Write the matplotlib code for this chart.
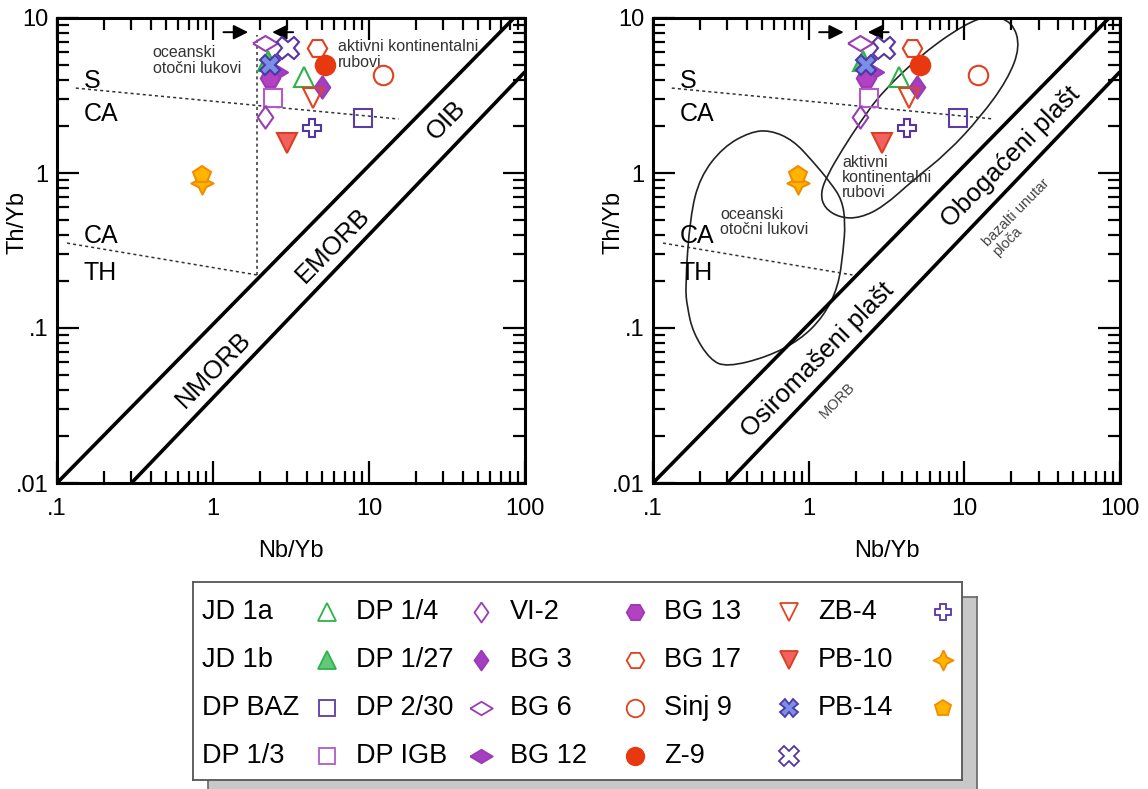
import matplotlib.pyplot as plt
import numpy as np
from matplotlib.path import Path
from matplotlib.patches import PathPatch

plt.rcParams['font.family'] = ['Liberation Sans', 'DejaVu Sans']

# sample values (Nb/Yb, Th/Yb)
labels = ['JD 1a', 'JD 1b', 'DP BAZ', 'DP 1/3', 'DP 1/4', 'DP 1/27', 'DP 2/30', 'DP IGB',
          'VI-2', 'BG 3', 'BG 6', 'BG 12', 'BG 13', 'BG 17', 'Sinj 9', 'Z-9',
          'ZB-4', 'PB-10', 'PB-14']
nb_yb = [3.83, 2.25, 9.16, 2.43, 2.15, 5.0, 2.15, 2.5, 2.32, 4.64, 12.3, 5.22,
         4.38, 2.98, 2.32, 3.03, 4.3, 0.85, 0.85]
th_yb = [4.16, 5.3, 2.26, 3.05, 2.30, 3.59, 6.9, 4.5, 4.1, 6.4, 4.28, 4.98,
         3.05, 1.56, 4.98, 6.4, 1.95, 0.86, 0.97]

# reference lines
upper_x = [0.1, 85]
upper_y = [0.01, 10]
lower_x = [0.3, 100]
lower_y = [0.01, 4.5]
sca_x = [0.132, 15.5]
sca_y = [3.53, 2.23]
cath_x = [0.116, 1.91]
cath_y = [0.353, 0.22]
vert_x = [1.91, 1.91]
vert_y = [0.22, 7.8]

# fields in the right panel
ocean_x = [0.161, 0.173, 0.200, 0.282, 0.421, 0.565, 0.794, 1.07, 1.37, 1.64,
           1.72, 1.67, 1.55, 1.24, 0.88, 0.541, 0.299, 0.233, 0.181, 0.166]
ocean_y = [0.184, 0.52, 0.94, 1.47, 1.84, 1.89, 1.63, 1.18, 0.875, 0.67,
           0.475, 0.318, 0.184, 0.118, 0.0838, 0.065, 0.056, 0.0622, 0.093, 0.136]
active_x = [10.1, 14.7, 20.4, 22.9, 18.9, 12.7, 7.78, 4.70, 3.01, 2.14, 1.60,
            1.26, 1.19, 1.32, 1.64, 2.14, 2.97, 5.45]
active_y = [9.15, 10.45, 9.43, 6.5, 3.98, 2.30, 1.35, 0.90, 0.604, 0.513, 0.513,
            0.594, 0.743, 0.97, 1.41, 2.13, 3.34, 5.95]

wide_d = [(-1, 0), (0, 0.6), (1, 0), (0, -0.6), (-1, 0)]
tall_d = [(0, 1), (0.7, 0), (0, -1), (-0.7, 0), (0, 1)]
star4 = [(0, 1), (0.33, 0.33), (1, 0), (0.33, -0.33), (0, -1), (-0.33, -0.33),
         (-1, 0), (-0.33, 0.33), (0, 1)]

# marker, face, edge, size
styles = [
    ('^', 'none', '#2db34a', 14),
    ('^', '#62c87a', '#2db34a', 14),
    ('s', 'none', '#5a3ea6', 13),
    ('s', 'none', '#b25ac8', 13),
    (tall_d, 'none', '#9a3cb8', 16),
    (tall_d, '#a43fc0', '#9a3cb8', 16),
    (wide_d, 'none', '#9a3cb8', 18),
    (wide_d, '#a43fc0', '#9a3cb8', 18),
    ('H', '#b342c2', '#a038b5', 14),
    ('H', 'none', '#e2401e', 14),
    ('o', 'none', '#e2401e', 14),
    ('o', '#e8380f', '#e8380f', 14),
    ('v', 'none', '#e0451f', 14),
    ('v', '#f26060', '#d84020', 14),
    ('X', '#7b8fe6', '#4a3aa8', 14),
    ('X', 'none', '#5535a5', 16),
    ('P', 'none', '#5535a5', 13),
    (star4, '#ffb400', '#f28c00', 16),
    ('p', '#ffb400', '#f28c00', 13),
]

W, H = 1148, 789
fig = plt.figure(figsize=(W / 100, H / 100), dpi=100)


def smooth_closed(xs, ys):
    lx, ly = np.log10(xs), np.log10(ys)
    n = len(lx)
    mx = [(lx[i] + lx[(i + 1) % n]) / 2 for i in range(n)]
    my = [(ly[i] + ly[(i + 1) % n]) / 2 for i in range(n)]
    verts = [(10 ** mx[-1], 10 ** my[-1])]
    codes = [Path.MOVETO]
    for i in range(n):
        verts += [(xs[i], ys[i]), (10 ** mx[i], 10 ** my[i])]
        codes += [Path.CURVE3, Path.CURVE3]
    return Path(verts, codes)


def panel(ax, right):
    ax.set_xscale('log')
    ax.set_yscale('log')
    ax.set_xlim(0.1, 100)
    ax.set_ylim(0.01, 10)
    ax.plot(upper_x, upper_y, color='black', lw=2.6, solid_capstyle='butt')
    ax.plot(lower_x, lower_y, color='black', lw=2.6, solid_capstyle='butt')
    ax.plot(sca_x, sca_y, color='#333333', lw=1.1, ls=(0, (2, 2)))
    ax.plot(cath_x, cath_y, color='#333333', lw=1.1, ls=(0, (2, 2)))
    ax.annotate('', xy=(1.75, 8.1), xytext=(1.12, 8.1),
                arrowprops=dict(arrowstyle='-|>', color='black', lw=1.4, mutation_scale=22))
    ax.annotate('', xy=(2.3, 8.1), xytext=(3.4, 8.1),
                arrowprops=dict(arrowstyle='-|>', color='black', lw=1.4, mutation_scale=22))

    big = dict(fontsize=18, color='black')
    ax.text(0.148, 3.95, 'S', ha='left', va='center', **big)
    ax.text(0.148, 2.4, 'CA', ha='left', va='center', **big)
    ax.text(0.148, 0.39, 'CA', ha='left', va='center', **big)
    ax.text(0.148, 0.225, 'TH', ha='left', va='center', **big)

    if not right:
        ax.plot(vert_x, vert_y, color='#333333', lw=1.1, ls=(0, (2, 2)))
        ax.text(0.41, 5.3, 'oceanski\notočni lukovi', fontsize=11.5, color='#333333',
                ha='left', va='center', linespacing=1.05)
        ax.text(6.3, 5.8, 'aktivni kontinentalni\nrubovi', fontsize=11.5, color='#333333',
                ha='left', va='center', linespacing=1.05)
        rot = dict(rotation=45.5, rotation_mode='anchor', ha='center', va='center', fontsize=18.5)
        ax.text(1.0, 0.054, 'NMORB', **rot)
        ax.text(5.86, 0.343, 'EMORB', **rot)
        ax.text(31.3, 2.2, 'OIB', **rot)
    else:
        ax.add_patch(PathPatch(smooth_closed(ocean_x, ocean_y), fill=False,
                               edgecolor='#222222', lw=1.2))
        ax.add_patch(PathPatch(smooth_closed(active_x, active_y), fill=False,
                               edgecolor='#222222', lw=1.2))
        ax.text(0.269, 0.483, 'oceanski\notočni lukovi', fontsize=11.5, color='#333333',
                ha='left', va='center', linespacing=1.05)
        ax.text(1.64, 0.94, 'aktivni\nkontinentalni\nrubovi', fontsize=11.5, color='#333333',
                ha='left', va='center', linespacing=1.0)
        rot = dict(rotation=45.5, rotation_mode='anchor', ha='center', va='center', fontsize=18.5)
        ax.text(1.15, 0.062, 'Osiromašeni plašt', **rot)
        ax.text(19.8, 1.27, 'Obogaćeni plašt', **rot)
        ax.text(1.52, 0.034, 'MORB', rotation=45.5, rotation_mode='anchor', ha='center',
                va='center', fontsize=10.5, color='#444444')
        ax.text(23.3, 0.513, 'bazalti unutar\nploča', rotation=45.5, rotation_mode='anchor',
                ha='center', va='center', multialignment='left', fontsize=10.5,
                color='#444444', linespacing=1.0)

    for i in range(len(labels)):
        m, fc, ec, ms = styles[i]
        ax.plot([nb_yb[i]], [th_yb[i]], ls='none', marker=m, ms=ms, mfc=fc, mec=ec,
                mew=1.5, label=labels[i], zorder=5 + i * 0.01)

    ax.set_xticks([0.1, 1, 10, 100])
    ax.set_xticklabels(['.1', '1', '10', '100'])
    ax.set_yticks([0.01, 0.1, 1, 10])
    ax.set_yticklabels(['.01', '.1', '1', '10'])
    ax.tick_params(which='both', direction='in', top=True, right=True, width=1.6, labelsize=17)
    ax.tick_params(which='major', length=16)
    ax.tick_params(which='minor', length=8.5)
    ax.tick_params(axis='x', which='major', pad=11)
    ax.tick_params(axis='y', which='major', pad=6)
    for s in ax.spines.values():
        s.set_linewidth(2.2)
    ax.set_xlabel('Nb/Yb', fontsize=17)
    ax.set_ylabel('Th/Yb', fontsize=17)
    ax.xaxis.set_label_coords(0.5, -0.122)
    ax.yaxis.set_label_coords(-0.06, 0.56)


axl = fig.add_axes([57 / W, 1 - 483 / H, 468 / W, 465 / H])
axr = fig.add_axes([653 / W, 1 - 483 / H, 467 / W, 465 / H])
panel(axl, False)
panel(axr, True)

# legend with drop shadow
sax = fig.add_axes([208 / W, 1 - 795 / H, 769 / W, 198 / H])
sax.set_facecolor('#c8c8c8')
sax.set_xticks([])
sax.set_yticks([])
for s in sax.spines.values():
    s.set_color('#666666')
    s.set_linewidth(1.2)

lax = fig.add_axes([193 / W, 1 - 780 / H, 769 / W, 198 / H])
lax.set_xlim(0, 769)
lax.set_ylim(198, 0)
lax.set_facecolor('white')
lax.set_xticks([])
lax.set_yticks([])
for s in lax.spines.values():
    s.set_color('#555555')
    s.set_linewidth(1.3)

for i in range(len(labels)):
    col, row = i // 4, i % 4
    y = 30 + row * 48
    lax.text(9 + col * 154, y, labels[i], fontsize=19.5, ha='left', va='center')
    m, fc, ec, ms = styles[i]
    lax.plot([134 + col * 154], [y], ls='none', marker=m, ms=ms * 0.9, mfc=fc, mec=ec, mew=1.3)

fig.savefig('out.png', dpi=100)
